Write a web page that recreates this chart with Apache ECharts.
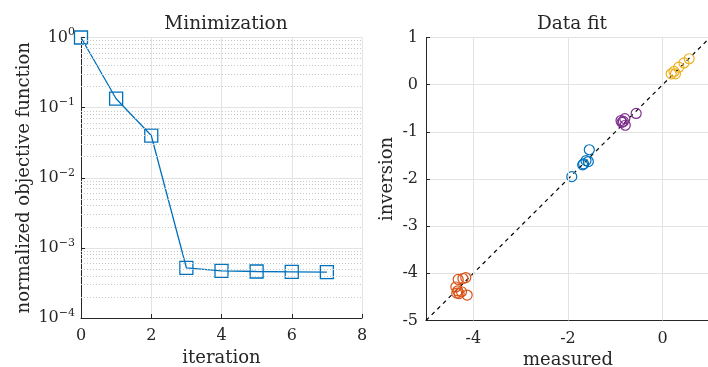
<!DOCTYPE html>
<html><head><meta charset="utf-8">
<script src="https://cdn.jsdelivr.net/npm/echarts@6/dist/echarts.min.js"></script>
<style>html,body{margin:0;padding:0;background:#fff}#c{width:708px;height:367px}</style>
</head><body><div id="c"></div>
<script>
// ---- data ----
var iterations = [0, 1, 2, 3, 4, 5, 6, 7];
var objective = [1.0, 0.134, 0.040, 5.2e-4, 4.7e-4, 4.6e-4, 4.55e-4, 4.5e-4];
var minorGridValues = [2e-4,3e-4,4e-4,5e-4,6e-4,7e-4,8e-4,9e-4,
  2e-3,3e-3,4e-3,5e-3,6e-3,7e-3,8e-3,9e-3,
  2e-2,3e-2,4e-2,5e-2,6e-2,7e-2,8e-2,9e-2,
  0.2,0.3,0.4,0.5,0.6,0.7,0.8,0.9];
var measuredTicks = [-4, -2, 0];
var orangeMeasured = [-4.16, -4.22, -4.32, -4.37, -4.35, -4.30, -4.25, -4.13, -4.33];
var orangeInversion = [-4.09, -4.11, -4.13, -4.29, -4.42, -4.43, -4.39, -4.46, -4.37];
var blueMeasured = [-1.55, -1.62, -1.69, -1.57, -1.92, -1.67];
var blueInversion = [-1.38, -1.61, -1.70, -1.63, -1.95, -1.68];
var purpleMeasured = [-0.56, -0.80, -0.86, -0.79, -0.83, -0.88];
var purpleInversion = [-0.61, -0.72, -0.80, -0.86, -0.78, -0.76];
var yellowMeasured = [0.56, 0.45, 0.34, 0.24, 0.18, 0.27];
var yellowInversion = [0.55, 0.46, 0.37, 0.28, 0.23, 0.23];
var fitLine = [[-5, -5], [1, 1]];

function zip(a, b) { return a.map(function (v, i) { return [v, b[i]]; }); }

var FONT = 'DejaVu Serif';
var TXT = '#262626';
var supers = {'0':'0','-1':'\u22121','-2':'\u22122','-3':'\u22123','-4':'\u22124'};

function circleSeries(name, color, xs, ys) {
  return {
    type: 'scatter', name: name, xAxisIndex: 1, yAxisIndex: 1,
    data: zip(xs, ys), symbol: 'circle', symbolSize: 10,
    itemStyle: { color: 'rgba(255,255,255,0)', borderColor: color, borderWidth: 1.2, opacity: 1 },
    z: 3
  };
}

var chart = echarts.init(document.getElementById('c'));
chart.setOption({
  animation: false,
  title: [
    { text: 'Minimization', left: 221, top: 10, textAlign: 'center',
      textStyle: { fontFamily: FONT, fontSize: 18.5, fontWeight: 'normal', color: TXT } },
    { text: 'Data fit', left: 567, top: 10, textAlign: 'center',
      textStyle: { fontFamily: FONT, fontSize: 18.5, fontWeight: 'normal', color: TXT } }
  ],
  grid: [
    { left: 81, top: 37.5, width: 281, height: 280.5, outerBoundsMode: 'none', containLabel: false },
    { left: 426, top: 37.5, width: 284, height: 283, outerBoundsMode: 'none', containLabel: false }
  ],
  xAxis: [
    { gridIndex: 0, type: 'value', min: 0, max: 8, interval: 2,
      name: 'iteration', nameLocation: 'middle', nameGap: 29,
      nameTextStyle: { fontFamily: FONT, fontSize: 18, color: TXT },
      axisLine: { onZero: false, lineStyle: { color: '#262626', width: 1 } },
      axisTick: { inside: true, length: 4, lineStyle: { color: '#262626' } },
      axisLabel: { fontFamily: FONT, fontSize: 16, color: TXT, margin: 10 },
      splitLine: { show: true, lineStyle: { color: '#e3e3e3', width: 1 } } },
    { gridIndex: 1, type: 'value', min: -5, max: 1, interval: 1,
      name: 'measured', nameLocation: 'middle', nameGap: 27,
      nameTextStyle: { fontFamily: FONT, fontSize: 18, color: TXT },
      axisLine: { onZero: false, lineStyle: { color: '#262626', width: 1 } },
      axisTick: { inside: true, length: 4, lineStyle: { color: '#262626' }, customValues: measuredTicks },
      axisLabel: { fontFamily: FONT, fontSize: 16, color: TXT, margin: 10, customValues: measuredTicks },
      splitLine: { show: false } }
  ],
  yAxis: [
    { gridIndex: 0, type: 'log', min: 1e-4, max: 1, logBase: 10,
      name: 'normalized objective function', nameLocation: 'middle', nameGap: 48,
      nameTextStyle: { fontFamily: FONT, fontSize: 18, color: TXT },
      axisLine: { show: true, onZero: false, lineStyle: { color: '#262626', width: 1 } },
      axisTick: { show: true, inside: true, length: 4, lineStyle: { color: '#262626' } },
      axisLabel: { fontFamily: FONT, color: TXT, margin: 6,
        formatter: function (v) {
          var e = Math.round(Math.log10(v));
          return '{b|10}{s|' + supers[String(e)] + '}';
        },
        rich: { b: { fontFamily: FONT, fontSize: 16, color: TXT },
                s: { fontFamily: FONT, fontSize: 11, color: TXT, padding: [0, 0, 10, 0] } } },
      splitLine: { show: true, lineStyle: { color: '#e3e3e3', width: 1 } } },
    { gridIndex: 1, type: 'value', min: -5, max: 1, interval: 1,
      name: 'inversion', nameLocation: 'middle', nameGap: 30,
      nameTextStyle: { fontFamily: FONT, fontSize: 18, color: TXT },
      axisLine: { show: true, onZero: false, lineStyle: { color: '#262626', width: 1 } },
      axisTick: { show: true, inside: true, length: 4, lineStyle: { color: '#262626' } },
      axisLabel: { fontFamily: FONT, fontSize: 16, color: TXT, margin: 8,
        formatter: function (v) { return String(v); } },
      splitLine: { show: true, lineStyle: { color: '#e3e3e3', width: 1 } } }
  ],
  series: [
    { type: 'line', xAxisIndex: 0, yAxisIndex: 0, data: [], silent: true,
      markLine: { silent: true, symbol: 'none', precision: 8, label: { show: false },
        lineStyle: { color: '#c8c8c8', type: [1, 2], width: 1 },
        data: minorGridValues.map(function (v) { return { yAxis: v }; }) } },
    { type: 'line', xAxisIndex: 0, yAxisIndex: 0, data: zip(iterations, objective),
      symbol: 'rect', symbolSize: 13, showAllSymbol: true,
      lineStyle: { color: '#0072BD', width: 1.3 },
      itemStyle: { color: 'rgba(255,255,255,0)', borderColor: '#0072BD', borderWidth: 1.3 },
      z: 3 },
    { type: 'line', xAxisIndex: 1, yAxisIndex: 1, data: [], silent: true,
      markLine: { silent: true, symbol: 'none', label: { show: false },
        lineStyle: { color: '#e3e3e3', type: 'solid', width: 1 },
        data: measuredTicks.map(function (v) { return { xAxis: v }; }) } },
    { type: 'line', xAxisIndex: 1, yAxisIndex: 1, data: fitLine, symbol: 'none',
      lineStyle: { color: '#000', type: [4, 4], width: 1.2 }, z: 2 },
    circleSeries('orange', '#D95319', orangeMeasured, orangeInversion),
    circleSeries('blue', '#0072BD', blueMeasured, blueInversion),
    circleSeries('purple', '#7E2F8E', purpleMeasured, purpleInversion),
    circleSeries('yellow', '#EDB120', yellowMeasured, yellowInversion)
  ]
});
</script></body></html>
